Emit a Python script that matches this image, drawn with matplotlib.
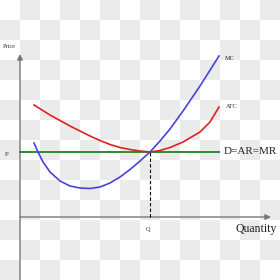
import numpy as np
import matplotlib.pyplot as plt
from matplotlib.colors import ListedColormap

# curve points (quantity, price units)
mc_q = [1.4, 1.8, 2.3, 3.0, 4.0, 5.0, 6.0, 7.0, 8.0, 9.0, 10.0, 11.0, 12.0, 13.0, 14.0, 15.0, 16.3, 18.0, 19.9]
mc_p = [7.4, 6.5, 5.5, 4.5, 3.6, 3.1, 2.9, 2.85, 3.0, 3.4, 4.0, 4.75, 5.6, 6.5, 7.6, 8.8, 10.6, 13.1, 16.1]
atc_q = [1.4, 3.0, 5.0, 7.0, 8.0, 9.0, 10.0, 11.0, 12.0, 13.0, 14.0, 15.0, 16.3, 18.0, 19.0, 19.9]
atc_p = [11.2, 10.2, 9.1, 8.1, 7.65, 7.25, 6.95, 6.75, 6.6, 6.5, 6.65, 6.95, 7.5, 8.5, 9.5, 11.0]
price_p = 6.5
quantity_q = 13.0
q_max = 19.9

fig = plt.figure(figsize=(2.8, 2.8), dpi=100)
ax = fig.add_axes([0, 0, 1, 1])
ax.set_xlim(-2, 26)
ax.set_ylim(-6.3, 21.7)
ax.axis('off')

# transparency checkerboard behind the drawing
cells = np.indices((14, 14)).sum(axis=0) % 2
ax.imshow(cells, cmap=ListedColormap(['white', '#ebebeb']), extent=(-2, 26, -6.3, 21.7),
          aspect='auto', interpolation='nearest', zorder=0)

# axes with arrows
ax.annotate('', xy=(0, 16.3), xytext=(0, -6.3),
            arrowprops=dict(arrowstyle='-|>', color='#777777', lw=1.0,
                            mutation_scale=8, shrinkA=0, shrinkB=0), zorder=2)
ax.annotate('', xy=(25.1, 0), xytext=(0, 0),
            arrowprops=dict(arrowstyle='-|>', color='#777777', lw=1.0,
                            mutation_scale=8, shrinkA=0, shrinkB=0), zorder=2)

ax.plot([0, q_max], [price_p, price_p], color='#2e8b2e', lw=1.4, zorder=3)
ax.plot(atc_q, atc_p, color='#e02020', lw=1.2, zorder=4, solid_joinstyle='round')
ax.plot(mc_q, mc_p, color='#4444dd', lw=1.2, zorder=5, solid_joinstyle='round')
ax.plot([quantity_q, quantity_q], [0, price_p], color='black', lw=0.8,
        ls=(0, (3, 2)), zorder=3)

serif = 'Liberation Serif'
ax.text(-1.05, 17.0, 'Price', family=serif, fontsize=4.5, ha='center', va='center', color='#333333')
ax.text(-1.3, 6.3, 'P', family=serif, fontsize=5, ha='center', va='center', color='#333333')
ax.text(quantity_q - 0.2, -1.2, 'Q', family=serif, fontsize=4.5, ha='center', va='center', color='#333333')
ax.text(20.5, 15.9, 'MC', family=serif, fontsize=4.5, ha='left', va='center', color='#333333')
ax.text(20.6, 11.0, 'ATC', family=serif, fontsize=4.5, ha='left', va='center', color='#333333')
ax.text(20.4, 6.5, 'D=AR=MR', family=serif, fontsize=8, ha='left', va='center', color='#222222')
ax.text(25.7, -1.2, 'Quantity', family=serif, fontsize=8.5, ha='right', va='center', color='#222222')

fig.savefig('out.png', dpi=100)
